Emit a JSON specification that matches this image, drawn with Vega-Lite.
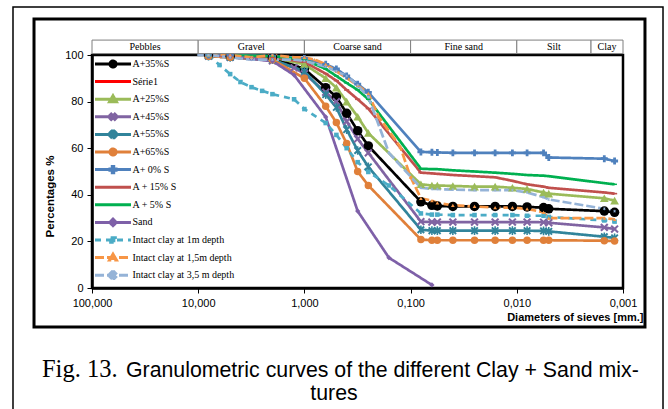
{
  "$schema": "https://vega.github.io/schema/vega-lite/v6.json",
  "width": 531,
  "height": 233,
  "autosize": {"type": "none"},
  "padding": {"left": 92, "top": 55, "right": 45, "bottom": 121},
  "background": "white",
  "config": {
    "view": {"stroke": "black", "strokeWidth": 2.5},
    "axis": {"grid": false, "domainColor": "black", "domainWidth": 2.5, "tickColor": "black", "labelColor": "black", "titleColor": "black"},
    "axisY": {"tickCount": 10, "labelOverlap": false}
  },
  "datasets": {
    "classes": [
      {"cls": "Pebbles", "lo": 100, "hi": 10, "mid": 31.62},
      {"cls": "Gravel", "lo": 10, "hi": 1, "mid": 3.162},
      {"cls": "Coarse sand", "lo": 1, "hi": 0.1, "mid": 0.3162},
      {"cls": "Fine sand", "lo": 0.1, "hi": 0.01, "mid": 0.03162},
      {"cls": "Silt", "lo": 0.01, "hi": 0.002, "mid": 0.00447},
      {"cls": "Clay", "lo": 0.002, "hi": 0.001, "mid": 0.001414}
    ],
    "curves": [
      {"s": "A+35%S", "d": 8, "p": 100}, {"s": "A+35%S", "d": 5, "p": 99.5}, {"s": "A+35%S", "d": 2, "p": 99}, {"s": "A+35%S", "d": 1, "p": 94}, {"s": "A+35%S", "d": 0.63, "p": 86}, {"s": "A+35%S", "d": 0.5, "p": 82}, {"s": "A+35%S", "d": 0.4, "p": 75}, {"s": "A+35%S", "d": 0.315, "p": 67.5}, {"s": "A+35%S", "d": 0.25, "p": 61},
      {"s": "A+35%S", "d": 0.08, "p": 37}, {"s": "A+35%S", "d": 0.063, "p": 35.5}, {"s": "A+35%S", "d": 0.056, "p": 35.2}, {"s": "A+35%S", "d": 0.04, "p": 35}, {"s": "A+35%S", "d": 0.025, "p": 35}, {"s": "A+35%S", "d": 0.016, "p": 35}, {"s": "A+35%S", "d": 0.011, "p": 35}, {"s": "A+35%S", "d": 0.008, "p": 34.8}, {"s": "A+35%S", "d": 0.0056, "p": 34.5}, {"s": "A+35%S", "d": 0.005, "p": 34}, {"s": "A+35%S", "d": 0.0015, "p": 33}, {"s": "A+35%S", "d": 0.0012, "p": 32.5},

      {"s": "A+25%S", "d": 8, "p": 100}, {"s": "A+25%S", "d": 5, "p": 99.5}, {"s": "A+25%S", "d": 2, "p": 99}, {"s": "A+25%S", "d": 1, "p": 96}, {"s": "A+25%S", "d": 0.63, "p": 90}, {"s": "A+25%S", "d": 0.5, "p": 86}, {"s": "A+25%S", "d": 0.4, "p": 80}, {"s": "A+25%S", "d": 0.315, "p": 73.5}, {"s": "A+25%S", "d": 0.25, "p": 66.5},
      {"s": "A+25%S", "d": 0.08, "p": 44.5}, {"s": "A+25%S", "d": 0.063, "p": 44}, {"s": "A+25%S", "d": 0.056, "p": 44}, {"s": "A+25%S", "d": 0.04, "p": 43.8}, {"s": "A+25%S", "d": 0.025, "p": 43.5}, {"s": "A+25%S", "d": 0.016, "p": 43.5}, {"s": "A+25%S", "d": 0.011, "p": 43}, {"s": "A+25%S", "d": 0.008, "p": 42.5}, {"s": "A+25%S", "d": 0.0056, "p": 41}, {"s": "A+25%S", "d": 0.005, "p": 40.5}, {"s": "A+25%S", "d": 0.0015, "p": 38.5}, {"s": "A+25%S", "d": 0.0012, "p": 37.5},

      {"s": "A+45%S", "d": 8, "p": 99.5}, {"s": "A+45%S", "d": 5, "p": 99}, {"s": "A+45%S", "d": 2, "p": 97.5}, {"s": "A+45%S", "d": 1.25, "p": 94.5}, {"s": "A+45%S", "d": 1, "p": 92}, {"s": "A+45%S", "d": 0.63, "p": 84}, {"s": "A+45%S", "d": 0.5, "p": 80}, {"s": "A+45%S", "d": 0.4, "p": 71.5}, {"s": "A+45%S", "d": 0.315, "p": 64}, {"s": "A+45%S", "d": 0.25, "p": 58},
      {"s": "A+45%S", "d": 0.08, "p": 28.5}, {"s": "A+45%S", "d": 0.063, "p": 28.3}, {"s": "A+45%S", "d": 0.056, "p": 28.3}, {"s": "A+45%S", "d": 0.04, "p": 28.3}, {"s": "A+45%S", "d": 0.025, "p": 28.3}, {"s": "A+45%S", "d": 0.016, "p": 28.3}, {"s": "A+45%S", "d": 0.011, "p": 28.3}, {"s": "A+45%S", "d": 0.008, "p": 28.3}, {"s": "A+45%S", "d": 0.0056, "p": 28.2}, {"s": "A+45%S", "d": 0.005, "p": 28}, {"s": "A+45%S", "d": 0.0015, "p": 26}, {"s": "A+45%S", "d": 0.0012, "p": 25.3},

      {"s": "A+55%S", "d": 8, "p": 99.5}, {"s": "A+55%S", "d": 5, "p": 99}, {"s": "A+55%S", "d": 2, "p": 98}, {"s": "A+55%S", "d": 1, "p": 93}, {"s": "A+55%S", "d": 0.63, "p": 83}, {"s": "A+55%S", "d": 0.5, "p": 77.5}, {"s": "A+55%S", "d": 0.4, "p": 68}, {"s": "A+55%S", "d": 0.315, "p": 59}, {"s": "A+55%S", "d": 0.25, "p": 52},
      {"s": "A+55%S", "d": 0.08, "p": 25}, {"s": "A+55%S", "d": 0.063, "p": 24.6}, {"s": "A+55%S", "d": 0.056, "p": 24.6}, {"s": "A+55%S", "d": 0.04, "p": 24.6}, {"s": "A+55%S", "d": 0.025, "p": 24.6}, {"s": "A+55%S", "d": 0.016, "p": 24.6}, {"s": "A+55%S", "d": 0.011, "p": 24.6}, {"s": "A+55%S", "d": 0.008, "p": 24.6}, {"s": "A+55%S", "d": 0.0056, "p": 24.5}, {"s": "A+55%S", "d": 0.005, "p": 24.3}, {"s": "A+55%S", "d": 0.0015, "p": 22}, {"s": "A+55%S", "d": 0.0012, "p": 21.5},

      {"s": "A+65%S", "d": 8, "p": 99.5}, {"s": "A+65%S", "d": 5, "p": 99}, {"s": "A+65%S", "d": 2, "p": 98}, {"s": "A+65%S", "d": 1, "p": 90}, {"s": "A+65%S", "d": 0.63, "p": 78}, {"s": "A+65%S", "d": 0.5, "p": 71}, {"s": "A+65%S", "d": 0.4, "p": 62}, {"s": "A+65%S", "d": 0.315, "p": 50}, {"s": "A+65%S", "d": 0.25, "p": 44},
      {"s": "A+65%S", "d": 0.08, "p": 20.8}, {"s": "A+65%S", "d": 0.063, "p": 20.5}, {"s": "A+65%S", "d": 0.056, "p": 20.5}, {"s": "A+65%S", "d": 0.04, "p": 20.5}, {"s": "A+65%S", "d": 0.025, "p": 20.5}, {"s": "A+65%S", "d": 0.016, "p": 20.5}, {"s": "A+65%S", "d": 0.011, "p": 20.5}, {"s": "A+65%S", "d": 0.008, "p": 20.5}, {"s": "A+65%S", "d": 0.0056, "p": 20.5}, {"s": "A+65%S", "d": 0.005, "p": 20.5}, {"s": "A+65%S", "d": 0.0015, "p": 20.3}, {"s": "A+65%S", "d": 0.0012, "p": 20.2},

      {"s": "A+ 0% S", "d": 8, "p": 100}, {"s": "A+ 0% S", "d": 5, "p": 100}, {"s": "A+ 0% S", "d": 2, "p": 99.5}, {"s": "A+ 0% S", "d": 1, "p": 98.5}, {"s": "A+ 0% S", "d": 0.63, "p": 96}, {"s": "A+ 0% S", "d": 0.5, "p": 94}, {"s": "A+ 0% S", "d": 0.4, "p": 91}, {"s": "A+ 0% S", "d": 0.315, "p": 87.5}, {"s": "A+ 0% S", "d": 0.25, "p": 84},
      {"s": "A+ 0% S", "d": 0.08, "p": 58.4}, {"s": "A+ 0% S", "d": 0.063, "p": 58.3}, {"s": "A+ 0% S", "d": 0.056, "p": 58.2}, {"s": "A+ 0% S", "d": 0.04, "p": 58}, {"s": "A+ 0% S", "d": 0.025, "p": 58}, {"s": "A+ 0% S", "d": 0.016, "p": 58}, {"s": "A+ 0% S", "d": 0.011, "p": 58}, {"s": "A+ 0% S", "d": 0.008, "p": 58}, {"s": "A+ 0% S", "d": 0.0056, "p": 58}, {"s": "A+ 0% S", "d": 0.005, "p": 56}, {"s": "A+ 0% S", "d": 0.0015, "p": 55.5}, {"s": "A+ 0% S", "d": 0.0012, "p": 54.5},

      {"s": "A + 15% S", "d": 8, "p": 100}, {"s": "A + 15% S", "d": 2, "p": 99}, {"s": "A + 15% S", "d": 1, "p": 97}, {"s": "A + 15% S", "d": 0.63, "p": 92}, {"s": "A + 15% S", "d": 0.5, "p": 89}, {"s": "A + 15% S", "d": 0.4, "p": 85}, {"s": "A + 15% S", "d": 0.315, "p": 81}, {"s": "A + 15% S", "d": 0.25, "p": 77},
      {"s": "A + 15% S", "d": 0.08, "p": 49.5}, {"s": "A + 15% S", "d": 0.063, "p": 49.2}, {"s": "A + 15% S", "d": 0.056, "p": 49}, {"s": "A + 15% S", "d": 0.04, "p": 48.5}, {"s": "A + 15% S", "d": 0.025, "p": 48}, {"s": "A + 15% S", "d": 0.016, "p": 47.5}, {"s": "A + 15% S", "d": 0.011, "p": 46}, {"s": "A + 15% S", "d": 0.008, "p": 44.5}, {"s": "A + 15% S", "d": 0.0056, "p": 43.5}, {"s": "A + 15% S", "d": 0.005, "p": 43}, {"s": "A + 15% S", "d": 0.0015, "p": 41}, {"s": "A + 15% S", "d": 0.0012, "p": 40.5},

      {"s": "A + 5% S", "d": 8, "p": 100}, {"s": "A + 5% S", "d": 2, "p": 99.5}, {"s": "A + 5% S", "d": 1, "p": 98}, {"s": "A + 5% S", "d": 0.63, "p": 94}, {"s": "A + 5% S", "d": 0.5, "p": 91}, {"s": "A + 5% S", "d": 0.4, "p": 88}, {"s": "A + 5% S", "d": 0.315, "p": 85}, {"s": "A + 5% S", "d": 0.25, "p": 81},
      {"s": "A + 5% S", "d": 0.08, "p": 51.2}, {"s": "A + 5% S", "d": 0.063, "p": 51}, {"s": "A + 5% S", "d": 0.056, "p": 51}, {"s": "A + 5% S", "d": 0.04, "p": 50.5}, {"s": "A + 5% S", "d": 0.025, "p": 50}, {"s": "A + 5% S", "d": 0.016, "p": 49.5}, {"s": "A + 5% S", "d": 0.011, "p": 49}, {"s": "A + 5% S", "d": 0.008, "p": 48.5}, {"s": "A + 5% S", "d": 0.0056, "p": 48.2}, {"s": "A + 5% S", "d": 0.005, "p": 48}, {"s": "A + 5% S", "d": 0.0015, "p": 45}, {"s": "A + 5% S", "d": 0.0012, "p": 44.5},

      {"s": "Sand", "d": 8, "p": 100}, {"s": "Sand", "d": 5, "p": 99.5}, {"s": "Sand", "d": 3.15, "p": 98.5}, {"s": "Sand", "d": 2, "p": 97.4}, {"s": "Sand", "d": 1.25, "p": 91.4}, {"s": "Sand", "d": 0.63, "p": 73.4}, {"s": "Sand", "d": 0.315, "p": 33}, {"s": "Sand", "d": 0.16, "p": 13}, {"s": "Sand", "d": 0.063, "p": 1.3},

      {"s": "Intact clay at 1m depth", "d": 8, "p": 100}, {"s": "Intact clay at 1m depth", "d": 6.3, "p": 95.7}, {"s": "Intact clay at 1m depth", "d": 5, "p": 91.8}, {"s": "Intact clay at 1m depth", "d": 4, "p": 88.4}, {"s": "Intact clay at 1m depth", "d": 3.15, "p": 86.2}, {"s": "Intact clay at 1m depth", "d": 2.5, "p": 84.6}, {"s": "Intact clay at 1m depth", "d": 2, "p": 83.2}, {"s": "Intact clay at 1m depth", "d": 1.25, "p": 81}, {"s": "Intact clay at 1m depth", "d": 1, "p": 76.8}, {"s": "Intact clay at 1m depth", "d": 0.63, "p": 70.8}, {"s": "Intact clay at 1m depth", "d": 0.5, "p": 65.7}, {"s": "Intact clay at 1m depth", "d": 0.4, "p": 60}, {"s": "Intact clay at 1m depth", "d": 0.315, "p": 54}, {"s": "Intact clay at 1m depth", "d": 0.25, "p": 49.8}, {"s": "Intact clay at 1m depth", "d": 0.16, "p": 44},
      {"s": "Intact clay at 1m depth", "d": 0.08, "p": 32}, {"s": "Intact clay at 1m depth", "d": 0.063, "p": 31.5}, {"s": "Intact clay at 1m depth", "d": 0.056, "p": 31.5}, {"s": "Intact clay at 1m depth", "d": 0.04, "p": 31.3}, {"s": "Intact clay at 1m depth", "d": 0.025, "p": 31.3}, {"s": "Intact clay at 1m depth", "d": 0.016, "p": 31.3}, {"s": "Intact clay at 1m depth", "d": 0.011, "p": 31.3}, {"s": "Intact clay at 1m depth", "d": 0.008, "p": 31}, {"s": "Intact clay at 1m depth", "d": 0.0056, "p": 31}, {"s": "Intact clay at 1m depth", "d": 0.005, "p": 30.5}, {"s": "Intact clay at 1m depth", "d": 0.0015, "p": 29}, {"s": "Intact clay at 1m depth", "d": 0.0012, "p": 28.5},

      {"s": "Intact clay at 1,5m depth", "d": 8, "p": 100}, {"s": "Intact clay at 1,5m depth", "d": 5, "p": 100}, {"s": "Intact clay at 1,5m depth", "d": 3.15, "p": 99}, {"s": "Intact clay at 1,5m depth", "d": 2, "p": 100}, {"s": "Intact clay at 1,5m depth", "d": 1.25, "p": 99}, {"s": "Intact clay at 1,5m depth", "d": 1, "p": 99}, {"s": "Intact clay at 1,5m depth", "d": 0.8, "p": 98}, {"s": "Intact clay at 1,5m depth", "d": 0.63, "p": 96}, {"s": "Intact clay at 1,5m depth", "d": 0.5, "p": 93}, {"s": "Intact clay at 1,5m depth", "d": 0.315, "p": 87}, {"s": "Intact clay at 1,5m depth", "d": 0.25, "p": 83.5}, {"s": "Intact clay at 1,5m depth", "d": 0.2, "p": 73.5}, {"s": "Intact clay at 1,5m depth", "d": 0.125, "p": 60.5}, {"s": "Intact clay at 1,5m depth", "d": 0.1, "p": 47.6},
      {"s": "Intact clay at 1,5m depth", "d": 0.08, "p": 38.5}, {"s": "Intact clay at 1,5m depth", "d": 0.063, "p": 37.5}, {"s": "Intact clay at 1,5m depth", "d": 0.056, "p": 36.5}, {"s": "Intact clay at 1,5m depth", "d": 0.04, "p": 35.5}, {"s": "Intact clay at 1,5m depth", "d": 0.025, "p": 35}, {"s": "Intact clay at 1,5m depth", "d": 0.016, "p": 34.5}, {"s": "Intact clay at 1,5m depth", "d": 0.011, "p": 34.5}, {"s": "Intact clay at 1,5m depth", "d": 0.008, "p": 34}, {"s": "Intact clay at 1,5m depth", "d": 0.0056, "p": 32.5}, {"s": "Intact clay at 1,5m depth", "d": 0.005, "p": 30}, {"s": "Intact clay at 1,5m depth", "d": 0.0015, "p": 30}, {"s": "Intact clay at 1,5m depth", "d": 0.0012, "p": 29.5},

      {"s": "Intact clay at 3,5 m depth", "d": 10, "p": 100}, {"s": "Intact clay at 3,5 m depth", "d": 8, "p": 100}, {"s": "Intact clay at 3,5 m depth", "d": 5, "p": 99}, {"s": "Intact clay at 3,5 m depth", "d": 3.15, "p": 98}, {"s": "Intact clay at 3,5 m depth", "d": 2, "p": 98}, {"s": "Intact clay at 3,5 m depth", "d": 1.25, "p": 98}, {"s": "Intact clay at 3,5 m depth", "d": 1, "p": 97.5}, {"s": "Intact clay at 3,5 m depth", "d": 0.63, "p": 95}, {"s": "Intact clay at 3,5 m depth", "d": 0.5, "p": 93}, {"s": "Intact clay at 3,5 m depth", "d": 0.4, "p": 91}, {"s": "Intact clay at 3,5 m depth", "d": 0.315, "p": 87}, {"s": "Intact clay at 3,5 m depth", "d": 0.25, "p": 82}, {"s": "Intact clay at 3,5 m depth", "d": 0.16, "p": 58},
      {"s": "Intact clay at 3,5 m depth", "d": 0.08, "p": 43}, {"s": "Intact clay at 3,5 m depth", "d": 0.063, "p": 42.5}, {"s": "Intact clay at 3,5 m depth", "d": 0.056, "p": 42.5}, {"s": "Intact clay at 3,5 m depth", "d": 0.04, "p": 42.2}, {"s": "Intact clay at 3,5 m depth", "d": 0.025, "p": 42}, {"s": "Intact clay at 3,5 m depth", "d": 0.016, "p": 42}, {"s": "Intact clay at 3,5 m depth", "d": 0.011, "p": 42}, {"s": "Intact clay at 3,5 m depth", "d": 0.008, "p": 41}, {"s": "Intact clay at 3,5 m depth", "d": 0.0056, "p": 39}, {"s": "Intact clay at 3,5 m depth", "d": 0.005, "p": 38}, {"s": "Intact clay at 3,5 m depth", "d": 0.0015, "p": 34}, {"s": "Intact clay at 3,5 m depth", "d": 0.0012, "p": 33}
    ]
  },
  "layer": [
    {
      "data": {"name": "curves"},
      "mark": {"type": "line", "strokeWidth": 2.7, "clip": false},
      "encoding": {
        "x": {
          "field": "d", "type": "quantitative",
          "scale": {"type": "log", "domain": [0.001, 100], "reverse": true, "nice": false},
          "axis": {"values": [100, 10, 1, 0.1, 0.01, 0.001], "labelExpr": "replace(format(datum.value, '.3f'), '.', ',')", "labelFont": "Liberation Sans", "labelFontSize": 11, "labelPadding": 4, "labelFlush": false, "labelOverlap": false, "tickSize": 5, "tickWidth": 1, "title": "Diameters of sieves [mm.]", "titleFont": "Liberation Sans", "titleFontSize": 11, "titleFontWeight": "bold", "titleX": 551, "titleY": 32, "titleAlign": "right", "titleBaseline": "alphabetic"}
        },
        "y": {
          "field": "p", "type": "quantitative",
          "scale": {"domain": [0, 100], "nice": false, "zero": false},
          "axis": {"values": [0, 10, 20, 30, 40, 50, 60, 70, 80, 90, 100], "tickCount": 10, "labelFont": "Liberation Sans", "labelFontSize": 11, "labelPadding": 4, "labelOverlap": false, "tickSize": 5, "tickWidth": 1, "title": "Percentages %", "titleFont": "Liberation Sans", "titleFontSize": 11.5, "titleFontWeight": "bold", "titleX": -37, "titleY": 141, "titleAlign": "center", "titleBaseline": "bottom", "titleAngle": 270}
        },
        "color": {
          "field": "s", "type": "nominal",
          "scale": {
            "domain": ["A+35%S", "Série1", "A+25%S", "A+45%S", "A+55%S", "A+65%S", "A+ 0% S", "A + 15% S", "A + 5% S", "Sand", "Intact clay at 1m depth", "Intact clay at 1,5m depth", "Intact clay at 3,5 m depth"],
            "range": ["#000000", "#FF0000", "#9BBB59", "#8064A2", "#31849B", "#E0803A", "#4F81BD", "#C0504D", "#00B050", "#7E60A8", "#4BACC6", "#F79646", "#95B3D7"]
          },
          "legend": {
            "orient": "none", "legendX": 1.5, "legendY": 2, "title": null, "padding": 0,
            "rowPadding": 3.6, "clipHeight": 14, "symbolSize": 1296, "symbolStrokeWidth": 3,
            "labelFont": "Liberation Serif", "labelFontSize": 10, "labelColor": "black", "labelOffset": 0, "labelLimit": 300,
            "encode": {
              "symbols": {
                "update": {
                  "shape": {"signal": "(datum.value === 'A+35%S' || datum.value === 'A+65%S') ? 'M-1,0L1,0M-0.17,0A0.17,0.17 0 1,1 0.17,0A0.17,0.17 0 1,1 -0.17,0Z' : (datum.value === 'A+25%S' || datum.value === 'Intact clay at 1,5m depth') ? 'M-1,0L1,0M0,-0.19L0.19,0.14L-0.19,0.14Z' : datum.value === 'A+45%S' ? 'M-1,0L1,0M-0.15,-0.1L-0.1,-0.15L0,-0.05L0.1,-0.15L0.15,-0.1L0.05,0L0.15,0.1L0.1,0.15L0,0.05L-0.1,0.15L-0.15,0.1L-0.05,0Z' : (datum.value === 'A+55%S' || datum.value === 'Intact clay at 3,5 m depth') ? 'M-1,0L1,0M-0.15,-0.1L-0.1,-0.15L0,-0.05L0.1,-0.15L0.15,-0.1L0.05,0L0.15,0.1L0.1,0.15L0,0.05L-0.1,0.15L-0.15,0.1L-0.05,0ZM-0.03,-0.19L0.03,-0.19L0.03,0.19L-0.03,0.19Z' : datum.value === 'A+ 0% S' ? 'M-1,0L1,0M-0.04,-0.17L0.04,-0.17L0.04,-0.04L0.17,-0.04L0.17,0.04L0.04,0.04L0.04,0.17L-0.04,0.17L-0.04,0.04L-0.17,0.04L-0.17,-0.04L-0.04,-0.04Z' : datum.value === 'Sand' ? 'M-1,0L1,0M0,-0.18L0.18,0L0,0.18L-0.18,0Z' : datum.value === 'Intact clay at 1m depth' ? 'M-1,0L1,0M-0.13,-0.13L0.13,-0.13L0.13,0.13L-0.13,0.13Z' : 'M-1,0L1,0'"},
                  "fill": {"scale": "color", "field": "value"},
                  "stroke": {"scale": "color", "field": "value"},
                  "opacity": {"value": 1}
                }
              }
            }
          }
        },
        "strokeDash": {
          "field": "s", "type": "nominal",
          "scale": {
            "domain": ["A+35%S", "Série1", "A+25%S", "A+45%S", "A+55%S", "A+65%S", "A+ 0% S", "A + 15% S", "A + 5% S", "Sand", "Intact clay at 1m depth", "Intact clay at 1,5m depth", "Intact clay at 3,5 m depth"],
            "range": [[1, 0], [1, 0], [1, 0], [1, 0], [1, 0], [1, 0], [1, 0], [1, 0], [1, 0], [1, 0], [6, 5], [9, 3], [9, 3]]
          },
          "legend": null
        }
      }
    },
    {
      "data": {"name": "curves"},
      "mark": {"type": "point", "filled": true, "opacity": 1, "clip": false},
      "encoding": {
        "x": {"field": "d", "type": "quantitative", "scale": {"type": "log", "domain": [0.001, 100], "reverse": true, "nice": false},
          "axis": {"values": [100, 10, 1, 0.1, 0.01, 0.001], "labelExpr": "replace(format(datum.value, '.3f'), '.', ',')", "labelFont": "Liberation Sans", "labelFontSize": 11, "labelPadding": 4, "labelFlush": false, "labelOverlap": false, "tickSize": 5, "tickWidth": 1, "title": "Diameters of sieves [mm.]", "titleFont": "Liberation Sans", "titleFontSize": 11, "titleFontWeight": "bold", "titleX": 551, "titleY": 32, "titleAlign": "right", "titleBaseline": "alphabetic"}},
        "y": {"field": "p", "type": "quantitative", "scale": {"domain": [0, 100], "nice": false, "zero": false},
          "axis": {"values": [0, 10, 20, 30, 40, 50, 60, 70, 80, 90, 100], "tickCount": 10, "labelFont": "Liberation Sans", "labelFontSize": 11, "labelPadding": 4, "labelOverlap": false, "tickSize": 5, "tickWidth": 1, "title": "Percentages %", "titleFont": "Liberation Sans", "titleFontSize": 11.5, "titleFontWeight": "bold", "titleX": -37, "titleY": 141, "titleAlign": "center", "titleBaseline": "bottom", "titleAngle": 270}},
        "color": {"field": "s", "type": "nominal", "legend": null},
        "shape": {
          "field": "s", "type": "nominal",
          "scale": {
            "domain": ["A+35%S", "Série1", "A+25%S", "A+45%S", "A+55%S", "A+65%S", "A+ 0% S", "A + 15% S", "A + 5% S", "Sand", "Intact clay at 1m depth", "Intact clay at 1,5m depth", "Intact clay at 3,5 m depth", "_none"],
            "range": ["circle", "circle", "triangle-up", "M-1,-0.65L-0.65,-1L0,-0.35L0.65,-1L1,-0.65L0.35,0L1,0.65L0.65,1L0,0.35L-0.65,1L-1,0.65L-0.35,0Z", "M-1,-0.65L-0.65,-1L0,-0.35L0.65,-1L1,-0.65L0.35,0L1,0.65L0.65,1L0,0.35L-0.65,1L-1,0.65L-0.35,0ZM-0.2,-1.1L0.2,-1.1L0.2,1.1L-0.2,1.1Z", "circle", "cross", "M-0.8,-0.25L0.8,-0.25L0.8,0.25L-0.8,0.25Z", "M-0.8,-0.25L0.8,-0.25L0.8,0.25L-0.8,0.25Z", "diamond", "square", "triangle-up", "M-1,-0.65L-0.65,-1L0,-0.35L0.65,-1L1,-0.65L0.35,0L1,0.65L0.65,1L0,0.35L-0.65,1L-1,0.65L-0.35,0ZM-0.2,-1.1L0.2,-1.1L0.2,1.1L-0.2,1.1Z", "circle"]
          },
          "legend": null
        },
        "size": {
          "field": "s", "type": "nominal",
          "scale": {
            "domain": ["A+35%S", "Série1", "A+25%S", "A+45%S", "A+55%S", "A+65%S", "A+ 0% S", "A + 15% S", "A + 5% S", "Sand", "Intact clay at 1m depth", "Intact clay at 1,5m depth", "Intact clay at 3,5 m depth", "_none"],
            "range": [90, 0, 110, 110, 120, 150, 110, 60, 60, 100, 90, 110, 120, 0]
          },
          "legend": null
        }
      }
    },
    {
      "data": {"name": "classes"},
      "mark": {"type": "rect", "fill": "white", "stroke": "#7f7f7f", "strokeWidth": 1},
      "encoding": {
        "x": {"field": "lo", "type": "quantitative", "scale": {"type": "log", "domain": [0.001, 100], "reverse": true, "nice": false},
          "axis": {"values": [100, 10, 1, 0.1, 0.01, 0.001], "labelExpr": "replace(format(datum.value, '.3f'), '.', ',')", "labelFont": "Liberation Sans", "labelFontSize": 11, "labelPadding": 4, "labelFlush": false, "labelOverlap": false, "tickSize": 5, "tickWidth": 1, "title": "Diameters of sieves [mm.]", "titleFont": "Liberation Sans", "titleFontSize": 11, "titleFontWeight": "bold", "titleX": 551, "titleY": 32, "titleAlign": "right", "titleBaseline": "alphabetic"}},
        "x2": {"field": "hi"},
        "y": {"datum": 100.6, "type": "quantitative", "scale": {"domain": [0, 100], "nice": false, "zero": false},
          "axis": {"values": [0, 10, 20, 30, 40, 50, 60, 70, 80, 90, 100], "tickCount": 10, "labelFont": "Liberation Sans", "labelFontSize": 11, "labelPadding": 4, "labelOverlap": false, "tickSize": 5, "tickWidth": 1, "title": "Percentages %", "titleFont": "Liberation Sans", "titleFontSize": 11.5, "titleFontWeight": "bold", "titleX": -37, "titleY": 141, "titleAlign": "center", "titleBaseline": "bottom", "titleAngle": 270}},
        "y2": {"datum": 106.4}
      }
    },
    {
      "data": {"name": "classes"},
      "mark": {"type": "text", "font": "Liberation Serif", "fontSize": 10, "color": "black", "baseline": "middle", "align": "center"},
      "encoding": {
        "x": {"field": "mid", "type": "quantitative", "scale": {"type": "log", "domain": [0.001, 100], "reverse": true, "nice": false},
          "axis": {"values": [100, 10, 1, 0.1, 0.01, 0.001], "labelExpr": "replace(format(datum.value, '.3f'), '.', ',')", "labelFont": "Liberation Sans", "labelFontSize": 11, "labelPadding": 4, "labelFlush": false, "labelOverlap": false, "tickSize": 5, "tickWidth": 1, "title": "Diameters of sieves [mm.]", "titleFont": "Liberation Sans", "titleFontSize": 11, "titleFontWeight": "bold", "titleX": 551, "titleY": 32, "titleAlign": "right", "titleBaseline": "alphabetic"}},
        "y": {"datum": 103.5, "type": "quantitative", "scale": {"domain": [0, 100], "nice": false, "zero": false},
          "axis": {"values": [0, 10, 20, 30, 40, 50, 60, 70, 80, 90, 100], "tickCount": 10, "labelFont": "Liberation Sans", "labelFontSize": 11, "labelPadding": 4, "labelOverlap": false, "tickSize": 5, "tickWidth": 1, "title": "Percentages %", "titleFont": "Liberation Sans", "titleFontSize": 11.5, "titleFontWeight": "bold", "titleX": -37, "titleY": 141, "titleAlign": "center", "titleBaseline": "bottom", "titleAngle": 270}},
        "text": {"field": "cls"},
        "fontWeight": {"condition": {"test": "indexof(['Pebbles','Gravel','Fine sand'], datum.cls) >= 0", "value": "bold"}, "value": "normal"}
      }
    },
    {
      "data": {"values": [{}]},
      "mark": {"type": "rect", "fill": "transparent", "stroke": "black", "strokeWidth": 1.5},
      "encoding": {
        "x": {"datum": 554.5, "type": "quantitative", "scale": {"type": "log", "domain": [0.001, 100], "reverse": true, "nice": false},
          "axis": {"values": [100, 10, 1, 0.1, 0.01, 0.001], "labelExpr": "replace(format(datum.value, '.3f'), '.', ',')", "labelFont": "Liberation Sans", "labelFontSize": 11, "labelPadding": 4, "labelFlush": false, "labelOverlap": false, "tickSize": 5, "tickWidth": 1, "title": "Diameters of sieves [mm.]", "titleFont": "Liberation Sans", "titleFontSize": 11, "titleFontWeight": "bold", "titleX": 551, "titleY": 32, "titleAlign": "right", "titleBaseline": "alphabetic"}},
        "x2": {"datum": 0.00042},
        "y": {"datum": 120.6, "type": "quantitative", "scale": {"domain": [0, 100], "nice": false, "zero": false},
          "axis": {"values": [0, 10, 20, 30, 40, 50, 60, 70, 80, 90, 100], "tickCount": 10, "labelFont": "Liberation Sans", "labelFontSize": 11, "labelPadding": 4, "labelOverlap": false, "tickSize": 5, "tickWidth": 1, "title": "Percentages %", "titleFont": "Liberation Sans", "titleFontSize": 11.5, "titleFontWeight": "bold", "titleX": -37, "titleY": 141, "titleAlign": "center", "titleBaseline": "bottom", "titleAngle": 270}},
        "y2": {"datum": -60}
      }
    },
    {
      "data": {"values": [{}]},
      "mark": {"type": "rect", "fill": "transparent", "stroke": "black", "strokeWidth": 3},
      "encoding": {
        "x": {"datum": 351.6, "type": "quantitative", "scale": {"type": "log", "domain": [0.001, 100], "reverse": true, "nice": false},
          "axis": {"values": [100, 10, 1, 0.1, 0.01, 0.001], "labelExpr": "replace(format(datum.value, '.3f'), '.', ',')", "labelFont": "Liberation Sans", "labelFontSize": 11, "labelPadding": 4, "labelFlush": false, "labelOverlap": false, "tickSize": 5, "tickWidth": 1, "title": "Diameters of sieves [mm.]", "titleFont": "Liberation Sans", "titleFontSize": 11, "titleFontWeight": "bold", "titleX": 551, "titleY": 32, "titleAlign": "right", "titleBaseline": "alphabetic"}},
        "x2": {"datum": 0.000621},
        "y": {"datum": 115.45, "type": "quantitative", "scale": {"domain": [0, 100], "nice": false, "zero": false},
          "axis": {"values": [0, 10, 20, 30, 40, 50, 60, 70, 80, 90, 100], "tickCount": 10, "labelFont": "Liberation Sans", "labelFontSize": 11, "labelPadding": 4, "labelOverlap": false, "tickSize": 5, "tickWidth": 1, "title": "Percentages %", "titleFont": "Liberation Sans", "titleFontSize": 11.5, "titleFontWeight": "bold", "titleX": -37, "titleY": 141, "titleAlign": "center", "titleBaseline": "bottom", "titleAngle": 270}},
        "y2": {"datum": -16.74}
      }
    },
    {
      "data": {"values": [{}]},
      "mark": {"type": "text", "text": "Fig. 13.", "font": "Liberation Serif", "fontSize": 24.5, "color": "black", "align": "left", "baseline": "alphabetic"},
      "encoding": {
        "x": {"datum": 295.7, "type": "quantitative", "scale": {"type": "log", "domain": [0.001, 100], "reverse": true, "nice": false},
          "axis": {"values": [100, 10, 1, 0.1, 0.01, 0.001], "labelExpr": "replace(format(datum.value, '.3f'), '.', ',')", "labelFont": "Liberation Sans", "labelFontSize": 11, "labelPadding": 4, "labelFlush": false, "labelOverlap": false, "tickSize": 5, "tickWidth": 1, "title": "Diameters of sieves [mm.]", "titleFont": "Liberation Sans", "titleFontSize": 11, "titleFontWeight": "bold", "titleX": 551, "titleY": 32, "titleAlign": "right", "titleBaseline": "alphabetic"}},
        "y": {"datum": -38.2, "type": "quantitative", "scale": {"domain": [0, 100], "nice": false, "zero": false},
          "axis": {"values": [0, 10, 20, 30, 40, 50, 60, 70, 80, 90, 100], "tickCount": 10, "labelFont": "Liberation Sans", "labelFontSize": 11, "labelPadding": 4, "labelOverlap": false, "tickSize": 5, "tickWidth": 1, "title": "Percentages %", "titleFont": "Liberation Sans", "titleFontSize": 11.5, "titleFontWeight": "bold", "titleX": -37, "titleY": 141, "titleAlign": "center", "titleBaseline": "bottom", "titleAngle": 270}}
      }
    },
    {
      "data": {"values": [{}]},
      "mark": {"type": "text", "text": "Granulometric curves of the different Clay + Sand mix-", "font": "Liberation Sans", "fontSize": 21.3, "color": "black", "align": "left", "baseline": "alphabetic"},
      "encoding": {
        "x": {"datum": 47.84, "type": "quantitative", "scale": {"type": "log", "domain": [0.001, 100], "reverse": true, "nice": false},
          "axis": {"values": [100, 10, 1, 0.1, 0.01, 0.001], "labelExpr": "replace(format(datum.value, '.3f'), '.', ',')", "labelFont": "Liberation Sans", "labelFontSize": 11, "labelPadding": 4, "labelFlush": false, "labelOverlap": false, "tickSize": 5, "tickWidth": 1, "title": "Diameters of sieves [mm.]", "titleFont": "Liberation Sans", "titleFontSize": 11, "titleFontWeight": "bold", "titleX": 551, "titleY": 32, "titleAlign": "right", "titleBaseline": "alphabetic"}},
        "y": {"datum": -38.2, "type": "quantitative", "scale": {"domain": [0, 100], "nice": false, "zero": false},
          "axis": {"values": [0, 10, 20, 30, 40, 50, 60, 70, 80, 90, 100], "tickCount": 10, "labelFont": "Liberation Sans", "labelFontSize": 11, "labelPadding": 4, "labelOverlap": false, "tickSize": 5, "tickWidth": 1, "title": "Percentages %", "titleFont": "Liberation Sans", "titleFontSize": 11.5, "titleFontWeight": "bold", "titleX": -37, "titleY": 141, "titleAlign": "center", "titleBaseline": "bottom", "titleAngle": 270}}
      }
    },
    {
      "data": {"values": [{}]},
      "mark": {"type": "text", "text": "tures", "font": "Liberation Sans", "fontSize": 21.3, "color": "black", "align": "center", "baseline": "alphabetic"},
      "encoding": {
        "x": {"datum": 0.5264, "type": "quantitative", "scale": {"type": "log", "domain": [0.001, 100], "reverse": true, "nice": false},
          "axis": {"values": [100, 10, 1, 0.1, 0.01, 0.001], "labelExpr": "replace(format(datum.value, '.3f'), '.', ',')", "labelFont": "Liberation Sans", "labelFontSize": 11, "labelPadding": 4, "labelFlush": false, "labelOverlap": false, "tickSize": 5, "tickWidth": 1, "title": "Diameters of sieves [mm.]", "titleFont": "Liberation Sans", "titleFontSize": 11, "titleFontWeight": "bold", "titleX": 551, "titleY": 32, "titleAlign": "right", "titleBaseline": "alphabetic"}},
        "y": {"datum": -48.1, "type": "quantitative", "scale": {"domain": [0, 100], "nice": false, "zero": false},
          "axis": {"values": [0, 10, 20, 30, 40, 50, 60, 70, 80, 90, 100], "tickCount": 10, "labelFont": "Liberation Sans", "labelFontSize": 11, "labelPadding": 4, "labelOverlap": false, "tickSize": 5, "tickWidth": 1, "title": "Percentages %", "titleFont": "Liberation Sans", "titleFontSize": 11.5, "titleFontWeight": "bold", "titleX": -37, "titleY": 141, "titleAlign": "center", "titleBaseline": "bottom", "titleAngle": 270}}
      }
    }
  ]
}
